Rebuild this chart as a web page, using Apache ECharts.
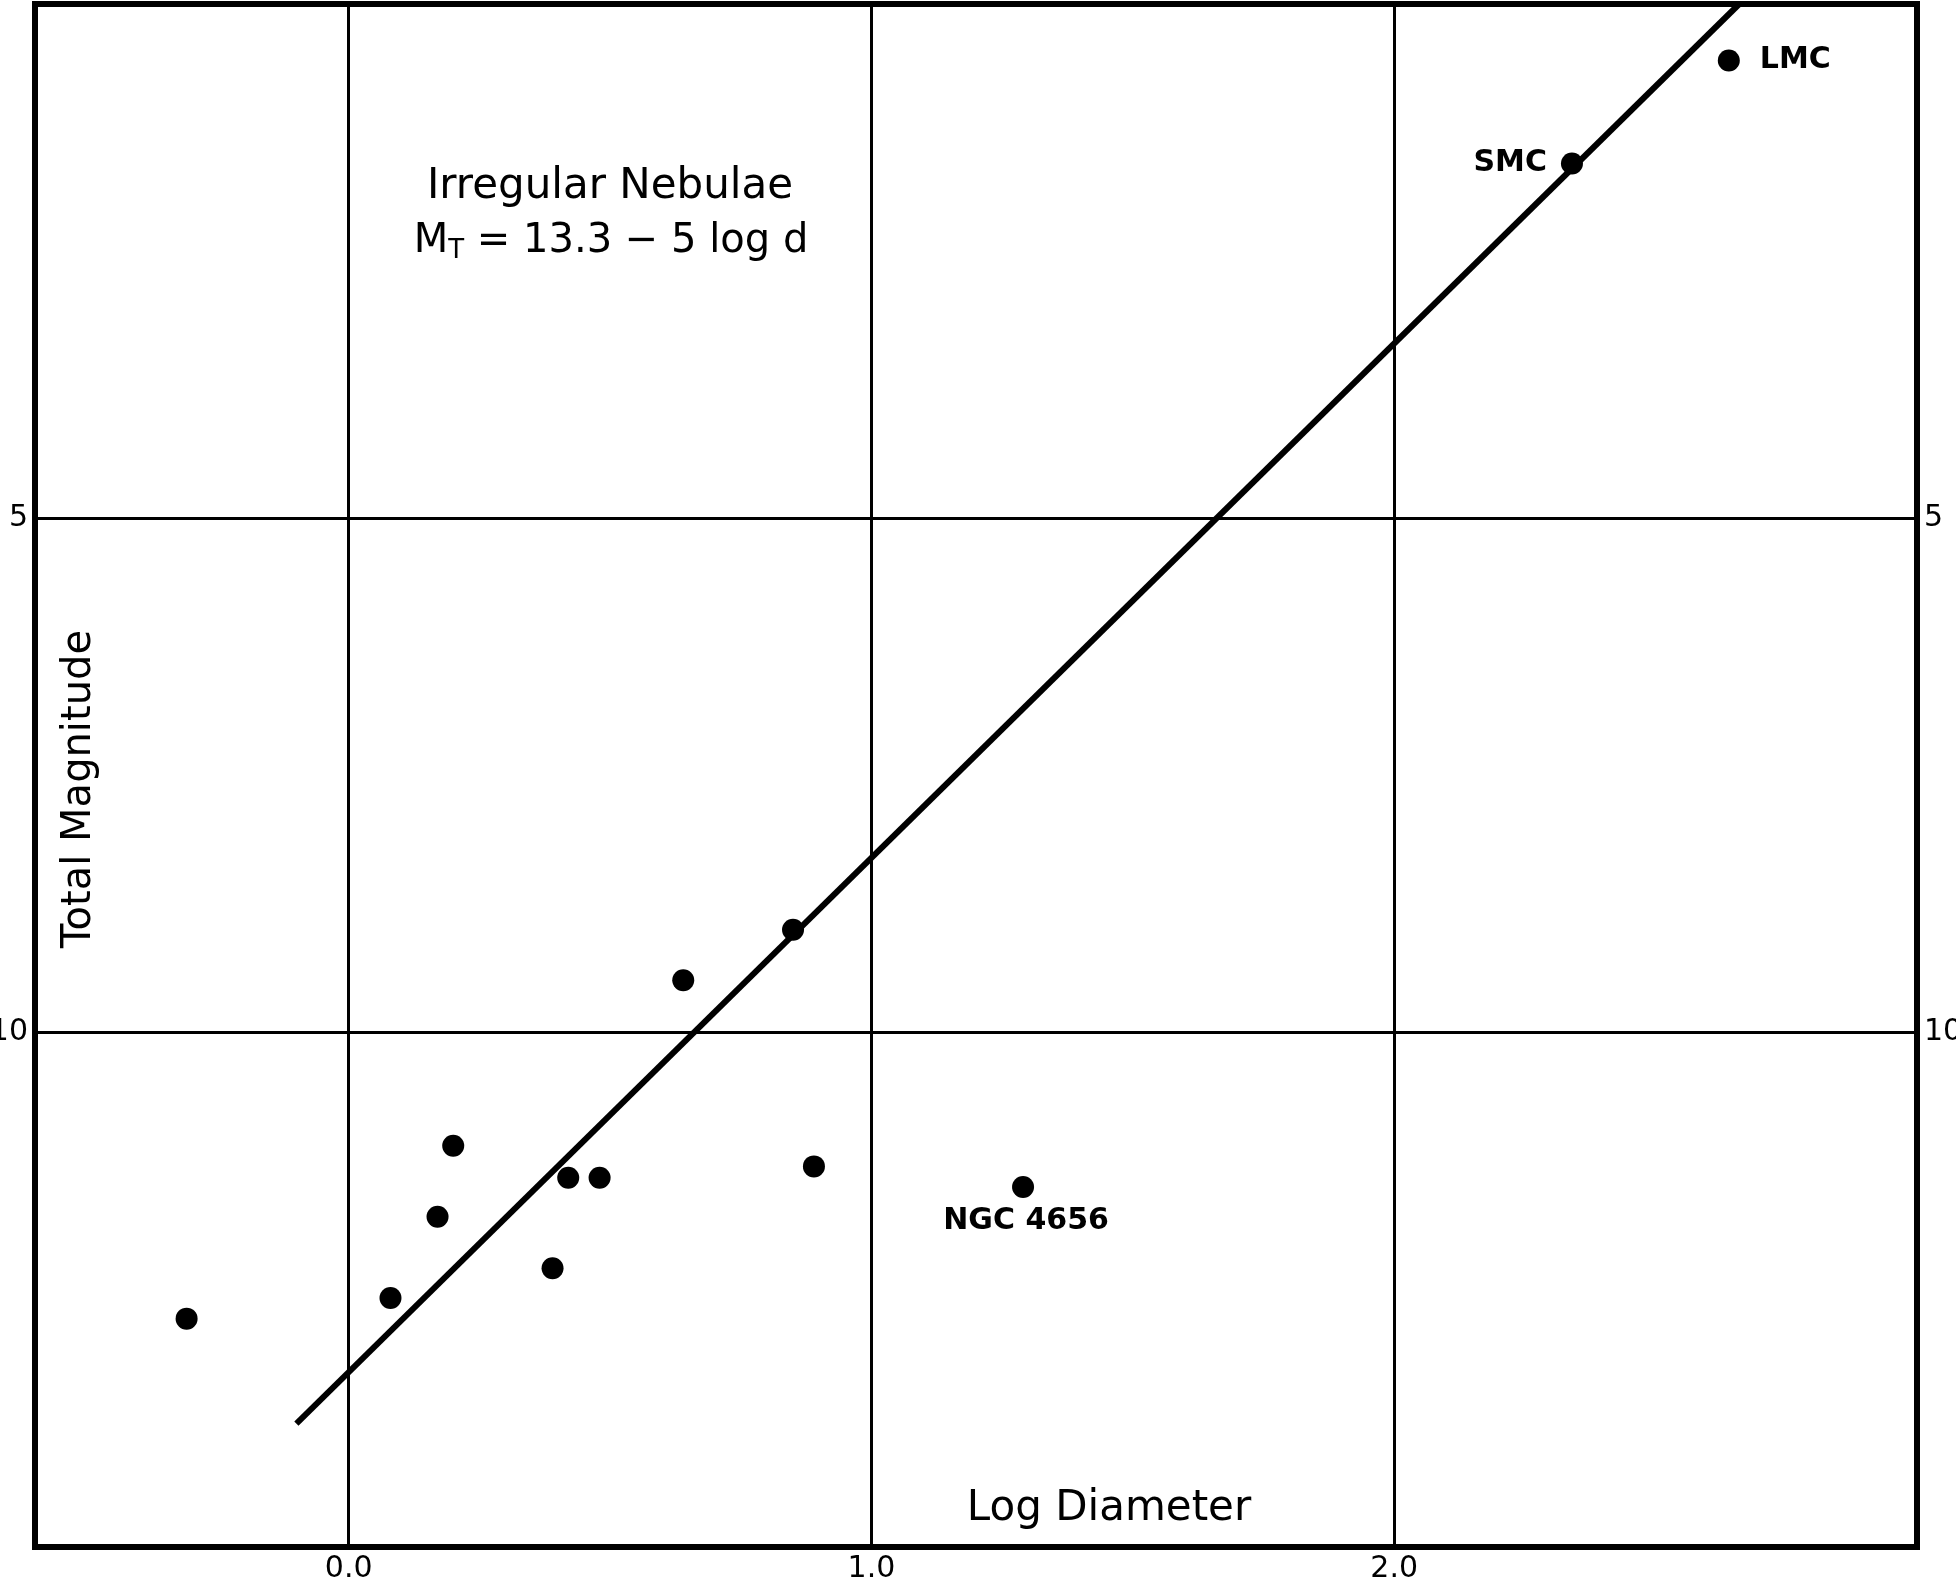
<!DOCTYPE html>
<html><head><meta charset="utf-8">
<script src="https://cdn.jsdelivr.net/npm/echarts@6/dist/echarts.min.js"></script>
<style>html,body{margin:0;padding:0;background:#fff}#c{width:1956px;height:1581px}</style>
</head><body><div id="c"></div>
<script>
// Data
const logD = [-0.31, 0.08, 0.17, 0.20, 0.39, 0.42, 0.48, 0.64, 0.85, 0.89, 1.29, 2.34, 2.64];
const totalMag = [12.78, 12.58, 11.79, 11.10, 12.29, 11.41, 11.41, 9.49, 9.00, 11.30, 11.50, 1.55, 0.55];
const pointNames = ['', '', '', '', '', '', '', '', '', '', 'NGC 4656', 'SMC', 'LMC'];
const fitLogD = [-0.1, 2.66];
const fitMag = [13.8, 0.0];
const xTicks = [0, 1, 2];
const xTickLabels = ['0.0', '1.0', '2.0'];
const yTickLabels = [5, 10];

const FONT = 'DejaVu Sans';
const labelStyle = {
  SMC: { position: 'left', distance: 14 },
  LMC: { position: 'right', distance: 20 },
  'NGC 4656': { position: 'bottom', distance: 8, offset: [3, 0] }
};

const scatterData = logD.map((x, i) => {
  const item = { value: [x, totalMag[i]], name: pointNames[i] };
  const ls = labelStyle[pointNames[i]];
  if (ls) {
    item.label = Object.assign({ show: true, formatter: '{b}', color: '#000',
      fontFamily: FONT, fontWeight: 'bold', fontSize: 30 }, ls);
  }
  return item;
});
const fitData = fitLogD.map((x, i) => [x, fitMag[i]]);

const yAxisBase = {
  type: 'value', min: 0, max: 15, interval: 5, inverse: true,
  axisLine: { show: false }, axisTick: { show: false },
  axisLabel: {
    color: '#000', fontFamily: FONT, fontSize: 30, margin: 7,
    formatter: v => (yTickLabels.indexOf(v) >= 0 ? String(v) : '')
  }
};

const chart = echarts.init(document.getElementById('c'), null, { renderer: 'canvas' });
chart.setOption({
  backgroundColor: '#fff',
  animation: false,
  grid: { left: 35, right: 39, top: 4, bottom: 34, show: true, outerBoundsMode: 'none',
    containLabel: false,
    borderColor: '#000', borderWidth: 6, backgroundColor: 'transparent' },
  xAxis: {
    type: 'value', min: -0.6, max: 3.0,
    axisLine: { show: false },
    axisTick: { show: false, customValues: xTicks },
    splitLine: { show: true, lineStyle: { color: '#000', width: 3 } },
    axisLabel: {
      customValues: xTicks, color: '#000', fontFamily: FONT, fontSize: 30, margin: 7,
      formatter: v => xTickLabels[xTicks.indexOf(v)]
    }
  },
  yAxis: [
    Object.assign({}, yAxisBase, { position: 'left',
      splitLine: { show: true, lineStyle: { color: '#000', width: 3 } } }),
    Object.assign({}, yAxisBase, { position: 'right', splitLine: { show: false } })
  ],
  series: [
    {
      type: 'line', data: fitData, showSymbol: false, symbol: 'none',
      lineStyle: { color: '#000', width: 6 }, z: 2
    },
    {
      type: 'scatter', data: scatterData, symbol: 'circle', symbolSize: 22,
      itemStyle: { color: '#000', opacity: 1 }, z: 3
    }
  ],
  graphic: [
    { type: 'text', x: 610, y: 187,
      style: { text: 'Irregular Nebulae', fill: '#000', font: '42px "DejaVu Sans"',
        align: 'center', verticalAlign: 'middle' } },
    { type: 'text', x: 611, y: 242,
      style: { text: '{m|M}{s|T}{m| = 13.3 − 5 log d}', fill: '#000',
        align: 'center', verticalAlign: 'middle',
        rich: {
          m: { fontFamily: FONT, fontSize: 40, fill: '#000' },
          s: { fontFamily: FONT, fontSize: 26, fill: '#000', verticalAlign: 'bottom', padding: [18, 0, 0, 0] }
        } } },
    { type: 'text', x: 80, y: 789, rotation: Math.PI / 2,
      style: { text: 'Total Magnitude', fill: '#000', font: '40px "DejaVu Sans"',
        align: 'center', verticalAlign: 'middle' } },
    { type: 'text', x: 1109, y: 1509,
      style: { text: 'Log Diameter', fill: '#000', font: '42px "DejaVu Sans"',
        align: 'center', verticalAlign: 'middle' } }
  ]
});
</script>
</body></html>
